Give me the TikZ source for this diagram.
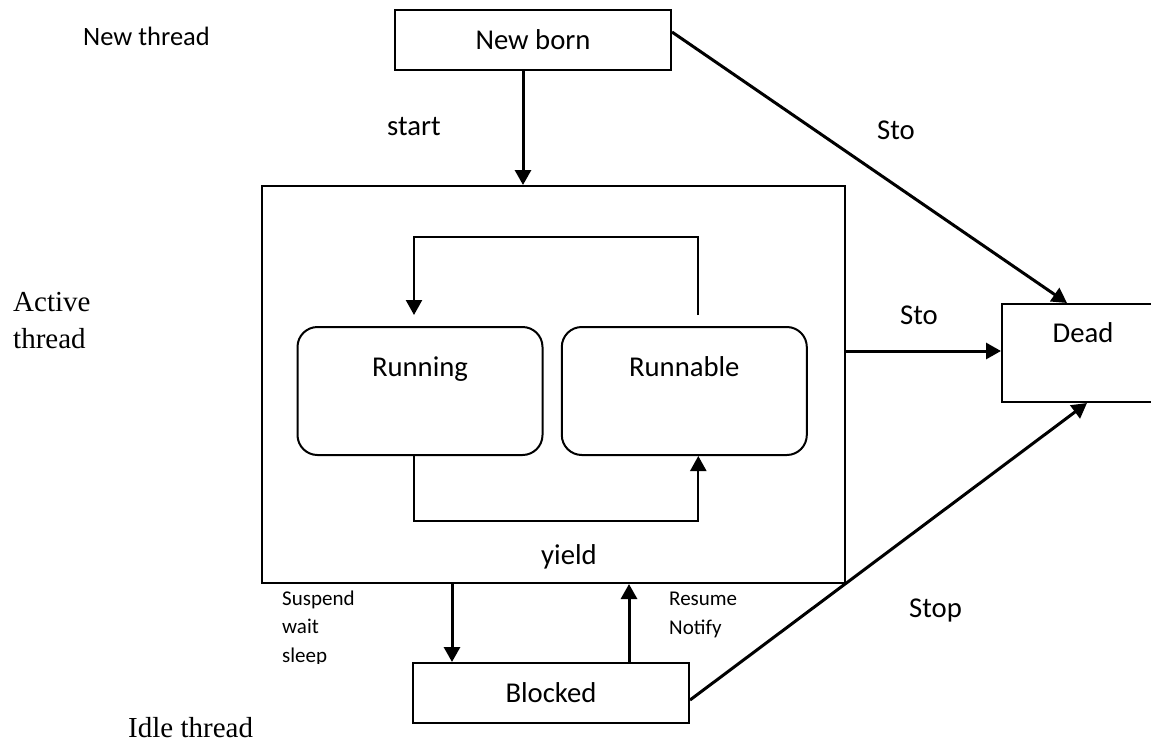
\documentclass[tikz,border=0pt]{standalone}
\usepackage{fontspec}
\setmainfont{Carlito}
\newfontfamily\timesface{Liberation Serif}
\usetikzlibrary{arrows.meta, positioning, calc}

\begin{document}
\begin{tikzpicture}[
    x=1pt, y=-1pt,
    % Box style for the states
    statebox/.style={
        rectangle,
        draw,
        line width=2pt,
        inner sep=0pt,
        font=\fontsize{28.7}{34}\selectfont
    },
    % Rounded inner states
    roundbox/.style={
        statebox,
        rounded corners=20pt,
        minimum width=245pt,
        minimum height=128pt
    },
    % Title placed near the top of a box
    boxtitle/.style={
        anchor=base,
        inner sep=0pt,
        font=\fontsize{28.7}{34}\selectfont
    },
    % Arrow style
    arrow/.style={
        -{Triangle[length=15pt, width=16pt]},
        line width=3pt
    },
    % Thinner loop inside the active box
    looparrow/.style={
        arrow,
        line width=2.3pt
    },
    % Edge text
    edgetext/.style={
        anchor=base west,
        inner sep=0pt,
        font=\fontsize{28.7}{34}\selectfont
    },
    % Small edge text (anchor is on the last line)
    smalltext/.style={
        anchor=base west,
        inner sep=0pt,
        align=left,
        font=\fontsize{21}{28.5}\selectfont
    },
    % Serif side text
    sidetext/.style={
        anchor=base west,
        inner sep=0pt,
        align=left,
        font=\timesface\fontsize{29}{37}\selectfont
    }
]
\useasboundingbox (0,0) rectangle (1151,742);

% ===== STATES =====

\node[statebox, minimum width=276pt, minimum height=60pt] (newborn) at (533,40) {New born};

\node[statebox, minimum width=583pt, minimum height=397pt] (active) at (553.5,384.5) {};

\node[roundbox, label={[boxtitle, yshift=-50pt]north:Running}] (running) at (420,391) {};
\node[roundbox, label={[boxtitle, yshift=-50pt]north:Runnable}] (runnable) at (684.3,391) {};

\node[statebox, minimum width=162pt, minimum height=98pt,
      label={[boxtitle, yshift=-39pt]north:Dead}] (dead) at (1083,353) {};

\node[statebox, minimum width=276pt, minimum height=60pt] (blocked) at (551,693) {Blocked};

% ===== ARROWS =====

\draw[arrow] ([xshift=-10pt]newborn.south) -- ([xshift=-10pt]newborn.south |- active.north);
\draw[arrow] ([yshift=8pt]newborn.east) -- ([xshift=-16pt]dead.north);
\draw[arrow] ([yshift=2pt]dead.west -| active.east) -- ([yshift=2pt]dead.west);
\draw[arrow] ([yshift=-7pt]blocked.east) -- ([xshift=4pt]dead.south);

\draw[arrow] ([xshift=-99pt]blocked.north |- active.south) -- ([xshift=-99pt]blocked.north);
\draw[arrow] ([xshift=78pt]blocked.north) -- ([xshift=78pt]blocked.north |- active.south);

% loop between running and runnable
\draw[looparrow] ([xshift=14pt, yshift=11pt]runnable.north) -- ++(0,-78)
    -| ([xshift=-6pt, yshift=11pt]running.north);
\draw[looparrow] ([xshift=-6pt]running.south) -- ++(0,65)
    -| ([xshift=14pt]runnable.south);

% ===== LABELS =====

\node[edgetext, font=\fontsize{26.5}{32}\selectfont] (newthread) at (83,45) {New thread};
\node[edgetext] (start) at (387,135) {start};
\node[edgetext] (stotop) at (877,139) {Sto};
\node[edgetext] (stomid) at (900,324) {Sto};
\node[edgetext] (yield) at (541,564) {yield};
\node[edgetext] (stop) at (909,617) {Stop};

\begin{scope}
    \clip (270,590) rectangle (420,663.5);
    \node[smalltext] (suspend) at (282,662) {Suspend\\wait\\sleep};
\end{scope}
\node[smalltext] (resume) at (669,634) {Resume\\Notify};

\node[sidetext] (activethread) at (13,348) {Active\\thread};
\node[sidetext] (idlethread) at (128,737) {Idle thread};

\end{tikzpicture}
\end{document}
